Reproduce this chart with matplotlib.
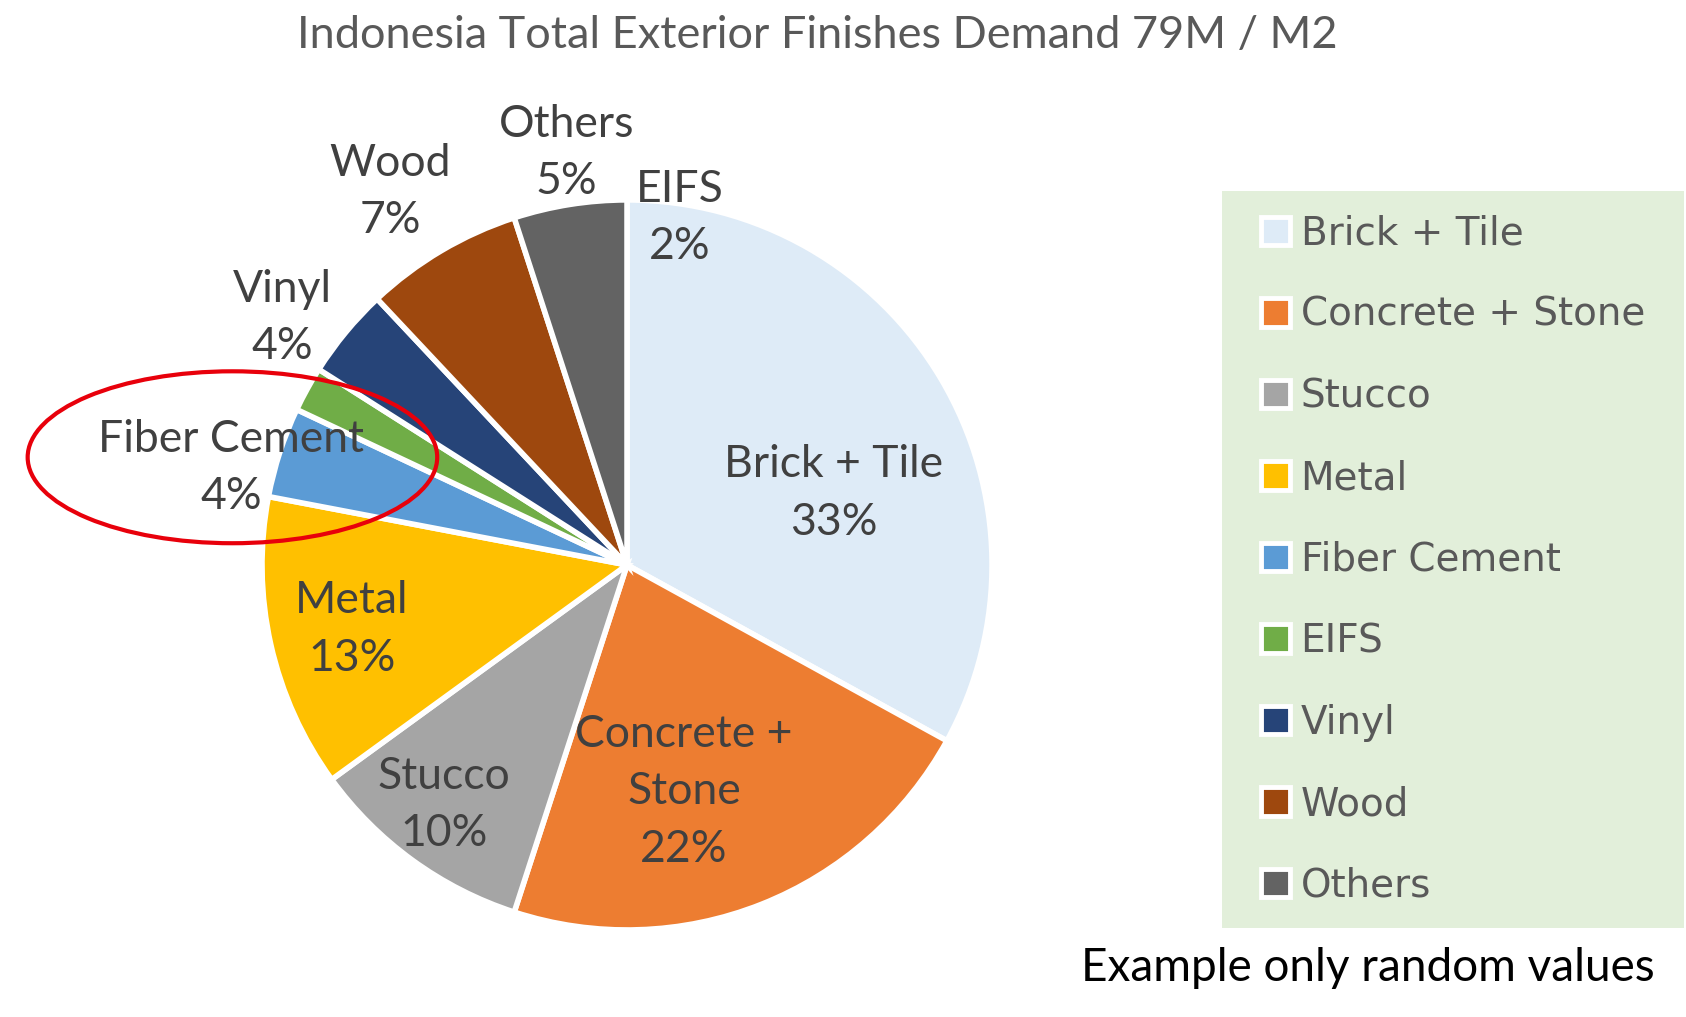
import matplotlib
matplotlib.use("Agg")
from matplotlib import pyplot as plt
from matplotlib.patches import Patch, Ellipse, Rectangle
from matplotlib.legend_handler import HandlerPatch

categories = ["Brick + Tile", "Concrete + Stone", "Stucco", "Metal", "Fiber Cement",
              "EIFS", "Vinyl", "Wood", "Others"]
shares = [33, 22, 10, 13, 4, 2, 4, 7, 5]
colors = ["#DEEBF7", "#ED7D31", "#A5A5A5", "#FFC000", "#5B9BD5",
          "#70AD47", "#264478", "#9E480E", "#636363"]
pie_labels = ["Brick + Tile", "Concrete +\nStone", "Stucco", "Metal", "Fiber Cement",
              "EIFS", "Vinyl", "Wood", "Others"]

# label centres in pie units (radius = 1)
label_pos = [(0.566, 0.196), (0.156, -0.621), (-0.501, -0.657), (-0.754, -0.177),
             (-1.084, 0.265), (0.144, 0.951), (-0.945, 0.677), (-0.648, 1.022),
             (-0.165, 1.128)]

plt.rcParams['font.family'] = ['Lato', 'DejaVu Sans']


def square_right(legend, orig_handle, xdescent, ydescent, width, height, fontsize):
    # draw the marker as a square at the right end of the handle box
    return Rectangle((-xdescent + width - height, -ydescent), height, height)


fig = plt.figure(figsize=(16.86, 10.17), dpi=100)
ax = fig.add_axes([0.1554, 0.0855, 0.433, 0.718])

wedges, _ = ax.pie(shares, colors=colors, startangle=90, counterclock=False,
                   wedgeprops=dict(edgecolor="white", linewidth=4))
ax.set_xlim(-1, 1)
ax.set_ylim(-1, 1)
ax.set_aspect("equal")

for lab, val, (x, y) in zip(pie_labels, shares, label_pos):
    ax.text(x, y, f"{lab}\n{val}%", ha="center", va="center", fontsize=32,
            color="#404040", linespacing=1.5, clip_on=False)

ax.add_patch(Ellipse((-1.081, 0.295), 1.122, 0.471, fill=False, edgecolor="#E8000B",
                     linewidth=3, clip_on=False))

fig.text(0.485, 0.965, "Indonesia Total Exterior Finishes Demand 79M / M2",
         ha="center", va="center", fontsize=32.5, color="#595959")

handles = [Patch(facecolor=c, edgecolor="white", linewidth=3.5) for c in colors]
leg = fig.legend(handles, categories, loc="upper left",
                 bbox_to_anchor=(1222 / 1686, 1 - 191 / 1017 - 0.01, 462 / 1686, 0.01),
                 mode="expand", borderaxespad=0, labelspacing=1.12,
                 handlelength=1.14, handleheight=0.75, handletextpad=0.28,
                 borderpad=0.6, fancybox=False, framealpha=1, labelcolor="#595959",
                 prop=dict(family="DejaVu Sans", size=28),
                 handler_map={Patch: HandlerPatch(patch_func=square_right)})
leg.get_frame().set_facecolor("#E2EFDA")
leg.get_frame().set_edgecolor("none")

fig.text(1368 / 1686, 1 - 968 / 1017, "Example only random values",
         ha="center", va="center", fontsize=33, color="black")

fig.savefig("out.png", dpi=100)
